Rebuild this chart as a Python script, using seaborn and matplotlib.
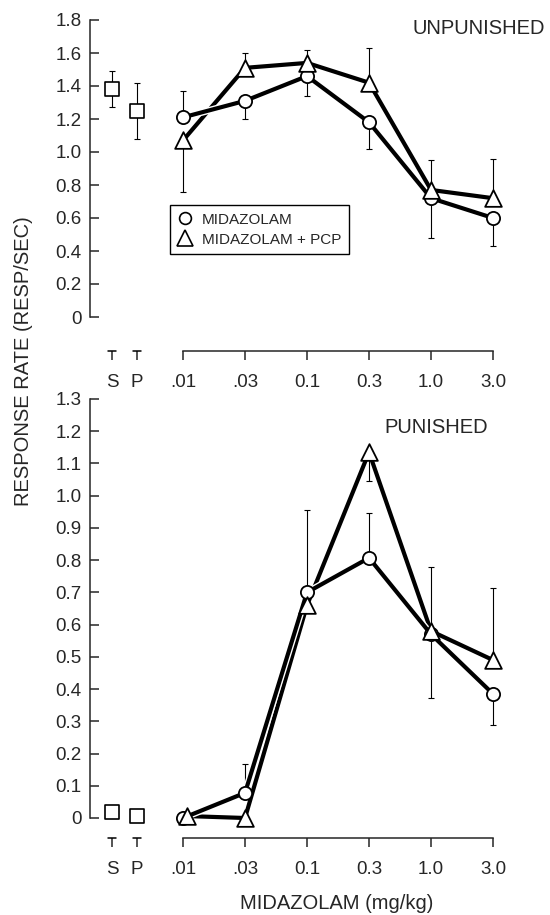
import numpy as np
import matplotlib
matplotlib.use("Agg")
import matplotlib.pyplot as plt
import matplotlib.patheffects as pe
from matplotlib.lines import Line2D
from matplotlib.transforms import offset_copy
import seaborn as sns

# x categories: control sessions and midazolam doses (mg/kg)
controls = ["S", "P"]
doses = [".01", ".03", "0.1", "0.3", "1.0", "3.0"]

# unpunished responding (resp/sec)
unp_ctrl = [1.38, 1.25]
unp_ctrl_err = [0.11, 0.17]
unp_mid = [1.21, 1.31, 1.46, 1.18, 0.72, 0.60]
unp_mid_lo = [0, 0.11, 0.12, 0.16, 0.24, 0.17]
unp_mid_hi = [0.16, 0, 0, 0, 0, 0]
unp_pcp = [1.07, 1.51, 1.54, 1.42, 0.77, 0.72]
unp_pcp_lo = [0.31, 0, 0, 0, 0, 0]
unp_pcp_hi = [0, 0.09, 0.08, 0.21, 0.18, 0.24]

# punished responding (resp/sec)
pun_ctrl = [0.02, 0.005]
pun_ctrl_err = [0, 0]
pun_mid = [0.0, 0.078, 0.70, 0.807, 0.57, 0.385]
pun_mid_lo = [0, 0, 0, 0, 0.197, 0.095]
pun_mid_hi = [0, 0.09, 0.255, 0.14, 0, 0]
pun_pcp = [0.006, 0.0, 0.66, 1.135, 0.58, 0.49]
pun_pcp_lo = [0, 0, 0, 0.09, 0, 0]
pun_pcp_hi = [0, 0, 0, 0, 0.2, 0.225]

sns.set_style("ticks")
plt.rcParams["font.family"] = ["Liberation Sans", "DejaVu Sans"]

CTRL_POS = [-1.145, -0.742]
dose_pos = np.arange(len(doses))
# small nudge so the overlapping .01 markers stay readable
TRI_SHIFT = 0.07

fig = plt.figure(figsize=(5.5, 9.15), dpi=100)
ax_top = fig.add_axes([90 / 550, 1 - 317 / 915, 430 / 550, 297 / 915])
ax_bot = fig.add_axes([90 / 550, 1 - 818 / 915, 430 / 550, 419 / 915])

halo = [pe.Stroke(linewidth=5.0, foreground="white"), pe.Normal()]


def draw_panel(ax, ctrl, ctrl_err, mid, mid_lo, mid_hi, pcp, pcp_lo, pcp_hi,
               ymax, step, spine_offset, title, title_xy, shift_first=False):
    eb = dict(fmt="none", ecolor="black", elinewidth=0.8, capsize=2,
              capthick=0.8, zorder=1)
    ax.errorbar(CTRL_POS, ctrl, yerr=ctrl_err, **eb)
    ax.errorbar(dose_pos, mid, yerr=[mid_lo, mid_hi], **eb)
    ax.errorbar(dose_pos, pcp, yerr=[pcp_lo, pcp_hi], **eb)

    # connecting lines; the midazolam line gets a white halo so the
    # other line looks broken where they cross
    tri_x = dose_pos.astype(float).copy()
    if shift_first:
        tri_x[0] += TRI_SHIFT
    sns.lineplot(x=tri_x, y=pcp, ax=ax, color="black", linewidth=3,
                 zorder=2, clip_on=False)
    sns.lineplot(x=dose_pos, y=mid, ax=ax, color="black", linewidth=3,
                 zorder=3, clip_on=False, path_effects=halo)

    # markers
    sns.scatterplot(x=CTRL_POS, y=ctrl, marker="s", s=110, color="white",
                    edgecolor="black", linewidth=1.2, ax=ax, zorder=5, clip_on=False)
    sns.scatterplot(x=dose_pos, y=mid, marker="o", s=9.5 ** 2, color="white",
                    edgecolor="black", linewidth=1.3, ax=ax, zorder=5, clip_on=False)
    sns.scatterplot(x=tri_x, y=pcp, marker="^", s=12 ** 2, color="white",
                    edgecolor="black", linewidth=1.3, ax=ax, zorder=6, clip_on=False)

    ax.set_xlim(-1.5, 5.435)
    ax.set_ylim(0, ymax)
    yt = np.round(np.arange(0, ymax + step / 2, step), 2)
    ax.set_yticks(yt, ["0"] + [f"{v:.1f}" for v in yt[1:]])
    ax.set_xticks(list(CTRL_POS) + list(dose_pos), controls + doses)

    sns.despine(ax=ax)
    ax.spines["left"].set_bounds(0, ymax)
    ax.spines["left"].set_linewidth(1.1)
    ax.spines["bottom"].set_position(("outward", spine_offset))
    ax.spines["bottom"].set_bounds(dose_pos[0], dose_pos[-1])
    ax.spines["bottom"].set_linewidth(1.1)
    ax.tick_params(axis="y", direction="in", length=6.5, width=1.1,
                   labelsize=13.5, pad=6)
    ax.tick_params(axis="x", direction="out", length=6.5, width=1.1,
                   labelsize=13.5, pad=10)

    # small caps on the S and P ticks
    cap_tr = offset_copy(ax.get_xaxis_transform(), fig=fig, y=-spine_offset,
                         units="points")
    for p in CTRL_POS:
        ax.plot([p - 0.06, p + 0.06], [0, 0], color="black", linewidth=1.1,
                transform=cap_tr, clip_on=False)

    ax.text(title_xy[0], title_xy[1], title, transform=ax.transAxes,
            ha="right", va="center", fontsize=14.5)


draw_panel(ax_top, unp_ctrl, unp_ctrl_err, unp_mid, unp_mid_lo, unp_mid_hi,
           unp_pcp, unp_pcp_lo, unp_pcp_hi, 1.8, 0.2, 24.5, "UNPUNISHED",
           (1.058, 0.973))
draw_panel(ax_bot, pun_ctrl, pun_ctrl_err, pun_mid, pun_mid_lo, pun_mid_hi,
           pun_pcp, pun_pcp_lo, pun_pcp_hi, 1.3, 0.1, 14.4, "PUNISHED",
           (0.926, 0.931), shift_first=True)

handles = [
    Line2D([], [], ls="none", marker="o", markersize=8.5, markerfacecolor="white",
           markeredgecolor="black", markeredgewidth=1.2),
    Line2D([], [], ls="none", marker="^", markersize=11, markerfacecolor="white",
           markeredgecolor="black", markeredgewidth=1.2),
]
leg = ax_top.legend(handles, ["MIDAZOLAM", "MIDAZOLAM + PCP"], loc="upper left",
                    bbox_to_anchor=(0.186, 0.377), borderaxespad=0, fontsize=11,
                    frameon=True, fancybox=False, framealpha=1, edgecolor="black",
                    handlelength=1.0, handletextpad=0.6, labelspacing=0.4,
                    borderpad=0.5)
leg.get_frame().set_linewidth(1.0)

ax_bot.set_xlabel("MIDAZOLAM (mg/kg)", fontsize=14.5)
ax_bot.xaxis.set_label_coords(0.574, -0.182)
fig.text(24 / 550, 1 - 361 / 915, "RESPONSE RATE (RESP/SEC)", rotation=90,
         ha="center", va="center", fontsize=14.5)

fig.savefig("out.png", dpi=100, facecolor="white")
